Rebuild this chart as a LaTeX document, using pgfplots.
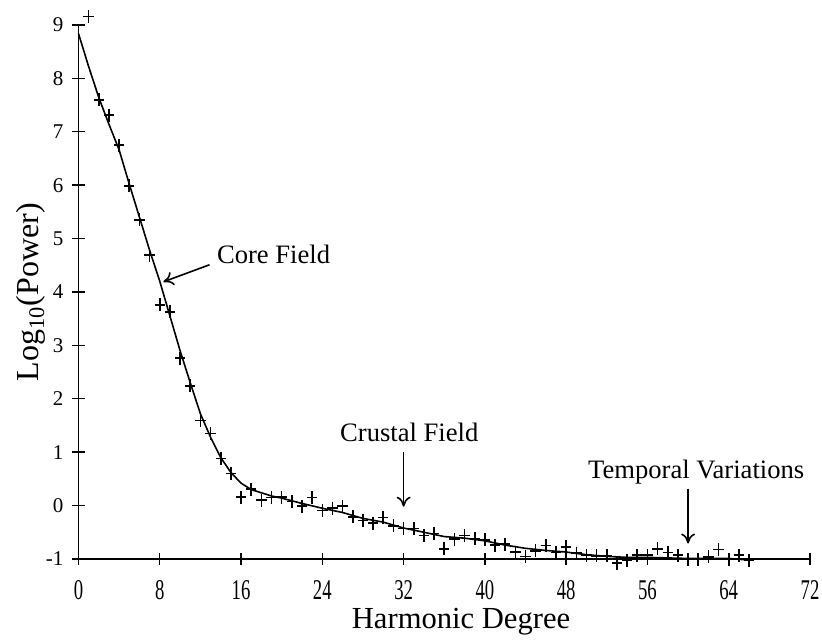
\documentclass[border=0pt]{standalone}
\usepackage{pgfplots}
\pgfplotsset{compat=1.18}
\usepackage{graphicx}
\usepackage{fontspec}
\setmainfont{Liberation Serif}
\usetikzlibrary{arrows.meta}
\newcommand{\xt}[1]{\scalebox{0.85}[1.3]{#1}}

\begin{document}
\begin{tikzpicture}
\useasboundingbox (-39.25pt,-40.5pt) rectangle (371.75pt,279.5pt);
\begin{axis}[
  at={(0,0)}, anchor=south west,
  scale only axis, width=365.75pt, height=267pt,
  xmin=0, xmax=72, ymin=-1, ymax=9,
  axis lines=left, axis line style={-, line width=0.8pt, black},
  xtick={0,8,16,24,32,40,48,56,64,72},
  xticklabels={\xt{0},\xt{8},\xt{16},\xt{24},\xt{32},\xt{40},\xt{48},\xt{56},\xt{64},\xt{72}},
  ytick={-1,0,1,2,3,4,5,6,7,8,9},
  yticklabels={-1,0,1,2,3,4,5,6,7,8,9},
  tick align=center, major tick length=6pt,
  tick style={line width=0.7pt, black},
  ticklabel style={font=\fontsize{10.5}{12}\selectfont},
  xticklabel style={anchor=north, yshift=-4pt, font=\fontsize{11}{12}\selectfont},
  yticklabel style={anchor=east, xshift=-1pt},
  xlabel={Harmonic Degree},
  xlabel style={at={(axis description cs:0.523,0)}, anchor=base, yshift=-34.5pt, font=\fontsize{15.3}{17}\selectfont},
  ylabel={Log\textsubscript{10}(Power)},
  ylabel style={at={(axis description cs:-0.054,0.5)}, anchor=base, rotate=0, font=\fontsize{16}{18}\selectfont},
  clip=false,
]
\addplot[black, line width=0.8pt, mark=none] coordinates {
(0,8.84) (1,8.22) (2,7.64) (3,7.14) (4,6.66) (5,6.02) (6,5.4) (7,4.78) (8,4.2)
(9,3.55) (10,2.9) (11,2.3) (12,1.72) (13,1.28) (14,0.9) (15,0.62) (16,0.42)
(17,0.3) (18,0.24) (19,0.18) (20,0.14) (22,0.04) (24,-0.05) (26,-0.13)
(28,-0.24) (30,-0.31) (32,-0.42) (34,-0.5) (36,-0.58) (38,-0.61) (40,-0.66)
(42,-0.74) (44,-0.8) (46,-0.84) (48,-0.87) (50,-0.92) (52,-0.95) (54,-0.97)
(56,-0.97) (58,-0.98) (60,-0.99) (62,-0.99) (64,-0.99) (66,-1.02)
};
\addplot[only marks, mark=+, mark size=2.6pt, mark options={line width=0.8pt, yscale=1.25}] coordinates {
(1,9.16) (2,7.60) (3,7.31) (4,6.75) (5,5.99) (6,5.35) (7,4.69) (8,3.76)
(9,3.63) (10,2.76) (11,2.24) (12,1.59) (13,1.35) (14,0.88) (15,0.60)
(16,0.16) (17,0.31) (18,0.10) (19,0.15) (20,0.16) (21,0.08) (22,-0.01)
(23,0.15) (24,-0.09) (25,-0.05) (26,-0.01) (27,-0.21) (28,-0.28) (29,-0.33)
(30,-0.22) (31,-0.38) (32,-0.43) (33,-0.43) (34,-0.56) (35,-0.52) (36,-0.81)
(37,-0.63) (38,-0.56) (39,-0.62) (40,-0.64) (41,-0.74) (42,-0.72) (43,-0.87)
(44,-0.95) (45,-0.85) (46,-0.75) (47,-0.88) (48,-0.77) (49,-0.89) (50,-0.93)
(51,-0.94) (52,-0.94) (53,-1.08) (54,-1.02) (55,-0.93) (56,-0.93) (57,-0.81)
(58,-0.88) (59,-0.93) (60,-1.01) (61,-1.01) (62,-0.96) (63,-0.82) (64,-1.01)
(65,-0.93) (66,-1.02)
};
\node[anchor=base, font=\fontsize{13.3}{15}\selectfont] at (axis cs:19.2,4.54) {Core Field};
\node[anchor=base, font=\fontsize{13.3}{15}\selectfont] at (axis cs:32.56,1.20) {Crustal Field};
\node[anchor=base, font=\fontsize{13.3}{15}\selectfont] at (axis cs:60.8,0.51) {Temporal Variations};
\draw[line width=0.8pt, -{To[length=5pt,width=7pt]}] (axis cs:12.9,4.51) -- (axis cs:8.35,4.19);
\draw[line width=0.8pt, -{To[length=5pt,width=7pt]}] (axis cs:32,1.0) -- (axis cs:32,-0.02);
\draw[line width=0.8pt, -{To[length=5pt,width=7pt]}] (axis cs:60,0.32) -- (axis cs:60,-0.71);
\end{axis}
\end{tikzpicture}
\end{document}
